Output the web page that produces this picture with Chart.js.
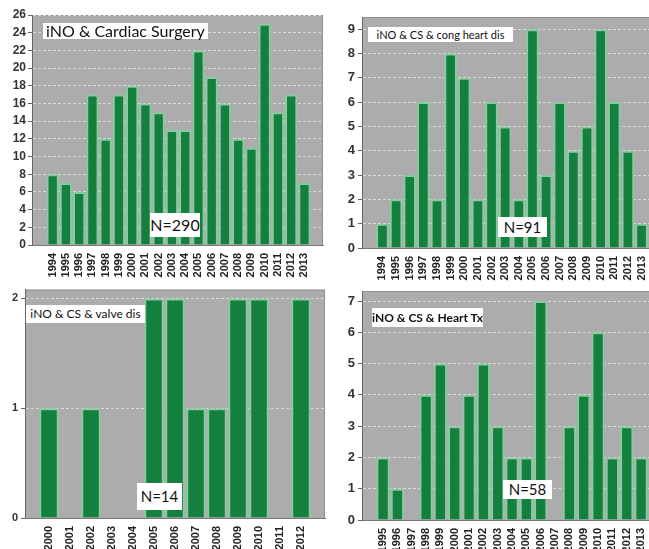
<!DOCTYPE html>
<html><head><meta charset="utf-8">
<script src="https://cdn.jsdelivr.net/npm/chart.js@4.4.1/dist/chart.umd.min.js"></script>
<style>
html,body{margin:0;padding:0;background:#fff;width:649px;height:549px;overflow:hidden;position:relative}
canvas{position:absolute}
.box{position:absolute;background:#fff;color:#111;font-family:Lato,'Open Sans',sans-serif;white-space:nowrap;display:flex;align-items:center;justify-content:center;line-height:1}
</style></head><body>
<canvas id="c1"></canvas><canvas id="c2"></canvas><canvas id="c3"></canvas><canvas id="c4"></canvas>
<div class="box" style="left:43px;top:23px;width:165px;height:16px;font-size:16px">iNO &amp; Cardiac Surgery</div>
<div class="box" style="left:150px;top:213px;width:50px;height:24px;font-size:16px">N=290</div>
<div class="box" style="left:368px;top:27px;width:145px;height:15px;font-size:11px">iNO &amp; CS &amp; cong heart dis</div>
<div class="box" style="left:498px;top:217px;width:49px;height:20px;font-size:15px">N=91</div>
<div class="box" style="left:26px;top:305px;width:119px;height:18px;font-size:12px">iNO &amp; CS &amp; valve dis</div>
<div class="box" style="left:137px;top:483px;width:45px;height:27px;font-size:15px">N=14</div>
<div class="box" style="left:372px;top:308px;width:111px;height:19px;font-size:12px;font-weight:bold">iNO &amp; CS &amp; Heart Tx</div>
<div class="box" style="left:503px;top:480px;width:49px;height:19px;font-size:15px">N=58</div>
<script>
// ---- data ----
const yearsAll = [1994,1995,1996,1997,1998,1999,2000,2001,2002,2003,2004,2005,2006,2007,2008,2009,2010,2011,2012,2013];
const surgeryCounts = [8,7,6,17,12,17,18,16,15,13,13,22,19,16,12,11,25,15,17,7];
const congHeartCounts = [1,2,3,6,2,8,7,2,6,5,2,9,3,6,4,5,9,6,4,1];
const valveYears = [2000,2001,2002,2003,2004,2005,2006,2007,2008,2009,2010,2011,2012];
const valveCounts = [1,0,1,0,0,2,2,1,1,2,2,0,2];
const txYears = [1995,1996,1997,1998,1999,2000,2001,2002,2003,2004,2005,2006,2007,2008,2009,2010,2011,2012,2013];
const txCounts = [2,1,0,4,5,3,4,5,3,2,2,7,0,3,4,6,2,3,2];

const bgPlugin = {
  id: 'bg',
  beforeDraw(c) {
    const a = c.chartArea, ctx = c.ctx;
    ctx.save();
    ctx.fillStyle = '#acacac';
    ctx.fillRect(a.left, a.top, a.right - a.left, a.bottom - a.top);
    ctx.strokeStyle = '#8f8f8f';
    ctx.lineWidth = 1;
    ctx.strokeRect(a.left + 0.5, a.top + 0.5, a.right - a.left - 1, a.bottom - a.top);
    ctx.restore();
  }
};

function makeChart(id, years, counts, o) {
  const cv = document.getElementById(id);
  cv.width = o.w; cv.height = o.h;
  cv.style.left = o.left + 'px'; cv.style.top = o.top + 'px';
  const pts = years.map((y, i) => ({x: y, y: counts[i] === 0 ? null : counts[i]}));
  return new Chart(cv, {
    type: 'bar',
    data: { datasets: [{ data: pts, backgroundColor: '#13803e', borderColor: '#86cc9f', borderWidth: 2,
      categoryPercentage: 1, barPercentage: o.barPct }] },
    options: {
      responsive: false, animation: false, devicePixelRatio: 1,
      layout: { padding: { left: 0, top: o.padTop, right: o.padRight, bottom: 0 } },
      plugins: { legend: { display: false }, tooltip: { enabled: false } },
      scales: {
        x: {
          type: 'linear', min: o.xmin, max: o.xmax, offset: false,
          afterBuildTicks: s => { s.ticks = years.map(v => ({value: v})); },
          afterFit: s => { s.height = o.xh; },
          grid: { display: false },
          border: { display: true, color: '#777', width: 1 },
          ticks: { autoSkip: false, minRotation: 90, maxRotation: 90, padding: 0, color: '#222',
            font: { family: 'Liberation Sans', weight: 'bold', size: 11 },
            callback: v => String(v) }
        },
        y: {
          min: 0, max: o.ymax,
          afterBuildTicks: s => {
            const t = [];
            for (let k = 0; k * o.step <= o.ymax + 1e-9; k++) t.push({value: k * o.step});
            s.ticks = t;
          },
          afterFit: s => { s.width = o.yw; },
          grid: { color: c => (c.tick && c.tick.value === 0) ? 'rgba(0,0,0,0)' : '#dadada', lineWidth: 1,
            tickColor: '#666', tickLength: 4 },
          border: { display: true, color: '#666', width: 1, dash: [3, 2] },
          ticks: { padding: o.ypad, color: '#333',
            font: { family: 'Liberation Sans', weight: 'bold', size: o.yfont } }
        }
      }
    },
    plugins: [bgPlugin]
  });
}

makeChart('c1', yearsAll, surgeryCounts, { left: 0, top: 0, w: 335, h: 290, padTop: 15, padRight: 12, xh: 45, yw: 32,
  xmin: 1992.44, xmax: 2014.4, ymax: 26, step: 2, yfont: 12, ypad: 2, barPct: 0.93 });
makeChart('c2', yearsAll, congHeartCounts, { left: 330, top: 0, w: 340, h: 290, padTop: 17, padRight: 8, xh: 42, yw: 32,
  xmin: 1992.5, xmax: 2014.5, ymax: 9.5, step: 1, yfont: 13, ypad: 3, barPct: 0.93 });
makeChart('c3', valveYears, valveCounts, { left: 0, top: 280, w: 335, h: 290, padTop: 9, padRight: 10, xh: 52, yw: 25,
  xmin: 1998.857, xmax: 2013.143, ymax: 2.08, step: 1, yfont: 11, ypad: 3, barPct: 0.93 });
makeChart('c4', txYears, txCounts, { left: 330, top: 280, w: 340, h: 290, padTop: 11, padRight: 8, xh: 50, yw: 32,
  xmin: 1993.53, xmax: 2014.46, ymax: 7.32, step: 1, yfont: 13, ypad: 3, barPct: 0.93 });
</script>
</body></html>
